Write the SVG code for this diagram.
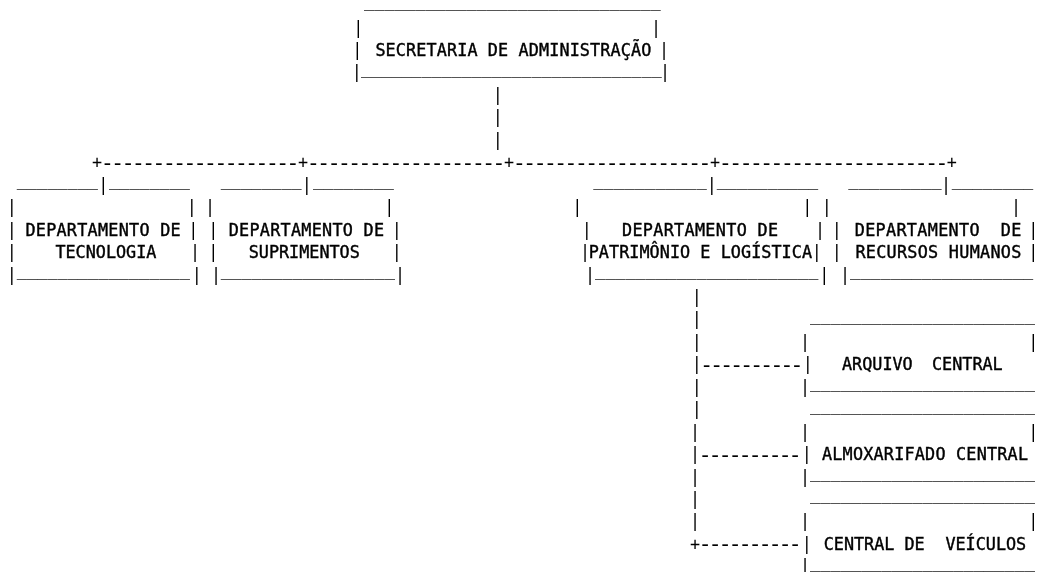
<svg xmlns="http://www.w3.org/2000/svg" width="1038" height="572" viewBox="0 0 1038 572">
<style>
text{font-family:"DejaVu Sans Mono","Liberation Mono",monospace;font-size:16.8px;fill:#000;white-space:pre}
.w{stroke:#000;stroke-width:0.4px}
.d{font-size:22px;letter-spacing:-2.94px}
.d2{font-size:22px;letter-spacing:-3.24px}
</style>
<defs>
<filter id="gray" x="0" y="0" width="1038" height="572" filterUnits="userSpaceOnUse"><feColorMatrix type="saturate" values="0"/></filter>
</defs>
<rect width="1038" height="572" fill="#fff"/>
<g filter="url(#gray)">
<g id="connectors">
<text x="492.65" y="100.9">|</text>
<text x="492.65" y="123.35">|</text>
<text x="492.65" y="145.8">|</text>
<text x="92.06" y="168.25">+</text>
<text x="298.06" y="168.25">+</text>
<text x="504.06" y="168.25">+</text>
<text x="710.06" y="168.25">+</text>
<text x="946.86" y="168.25">+</text>
<text class="d" x="100.8" y="169.75">-------------------</text>
<text class="d" x="306.8" y="169.75">-------------------</text>
<text class="d" x="512.8" y="169.75">-------------------</text>
<text class="d" x="718.8" y="169.75">----------------------</text>
<text x="98.25" y="190.7">|</text>
<text x="301.65" y="190.7">|</text>
<text x="706.65" y="190.7">|</text>
<text x="940.95" y="190.7">|</text>
<text x="691.65" y="302.95">|</text>
<text x="691.65" y="325.4">|</text>
<text x="691.65" y="347.85">|</text>
<text x="691.65" y="370.3">|</text>
<text x="691.65" y="392.75">|</text>
<text x="691.65" y="415.2">|</text>
<text x="689.95" y="437.65">|</text>
<text x="689.95" y="460.1">|</text>
<text x="689.95" y="482.55">|</text>
<text x="689.95" y="505">|</text>
<text x="689.95" y="527.45">|</text>
<text x="689.95" y="549.9">+</text>
<text class="d2" x="700.1" y="371.8">----------</text>
<text class="d2" x="698.5" y="461.6">----------</text>
<text class="d2" x="698.5" y="551.4">----------</text>
</g>
<g id="secretaria">
<text x="364" y="6.5" textLength="296.7" lengthAdjust="spacingAndGlyphs">_____________________________</text>
<text x="353.25" y="33.55">|</text>
<text x="650.95" y="33.55">|</text>
<text x="352.25" y="56">|</text>
<text class="w" x="375.4" y="56" textLength="275.9" lengthAdjust="spacing">SECRETARIA DE ADMINISTRAÇÃO</text>
<text x="658.95" y="56">|</text>
<text x="351.65" y="78.45">|</text>
<text x="361" y="73.85" textLength="300.7" lengthAdjust="spacingAndGlyphs">______________________________</text>
<text x="659.95" y="78.45">|</text>
</g>
<g id="dep-tecnologia">
<text x="16.7" y="186.1" textLength="81.3" lengthAdjust="spacingAndGlyphs">________</text>
<text x="109" y="186.1" textLength="81" lengthAdjust="spacingAndGlyphs">________</text>
<text x="6.65" y="213.15">|</text>
<text x="186.65" y="213.15">|</text>
<text x="6.65" y="235.6">|</text>
<text class="w" x="25.4" y="235.6" textLength="155.2" lengthAdjust="spacing">DEPARTAMENTO DE</text>
<text x="188.25" y="235.6">|</text>
<text x="6.65" y="258.05">|</text>
<text class="w" x="55.4" y="258.05">TECNOLOGIA</text>
<text x="189.95" y="258.05">|</text>
<text x="6.65" y="280.5">|</text>
<text x="16.7" y="275.9" textLength="173.3" lengthAdjust="spacingAndGlyphs">_________________</text>
<text x="191.65" y="280.5">|</text>
</g>
<g id="dep-suprimentos">
<text x="220.7" y="186.1" textLength="81" lengthAdjust="spacingAndGlyphs">________</text>
<text x="313" y="186.1" textLength="81" lengthAdjust="spacingAndGlyphs">________</text>
<text x="204.95" y="213.15">|</text>
<text x="384.25" y="213.15">|</text>
<text x="208.25" y="235.6">|</text>
<text class="w" x="228.7" y="235.6" textLength="155.3" lengthAdjust="spacing">DEPARTAMENTO DE</text>
<text x="391.65" y="235.6">|</text>
<text x="208.25" y="258.05">|</text>
<text class="w" x="248.7" y="258.05">SUPRIMENTOS</text>
<text x="391.65" y="258.05">|</text>
<text x="210.95" y="280.5">|</text>
<text x="220.7" y="275.9" textLength="174.3" lengthAdjust="spacingAndGlyphs">_________________</text>
<text x="394.95" y="280.5">|</text>
</g>
<g id="dep-patrimonio">
<text x="593.3" y="186.1" textLength="113.4" lengthAdjust="spacingAndGlyphs">___________</text>
<text x="716.7" y="186.1" textLength="101.6" lengthAdjust="spacingAndGlyphs">__________</text>
<text x="572.25" y="213.15">|</text>
<text x="802.25" y="213.15">|</text>
<text x="581.65" y="235.6">|</text>
<text class="w" x="622" y="235.6" textLength="156" lengthAdjust="spacing">DEPARTAMENTO DE</text>
<text x="814.95" y="235.6">|</text>
<text x="579.95" y="258.05">|</text>
<text class="w" x="588.7" y="258.05" textLength="223.3" lengthAdjust="spacing">PATRIMÔNIO E LOGÍSTICA</text>
<text x="811.65" y="258.05">|</text>
<text x="584.95" y="280.5">|</text>
<text x="595" y="275.9" textLength="223.3" lengthAdjust="spacingAndGlyphs">______________________</text>
<text x="819.25" y="280.5">|</text>
</g>
<g id="dep-recursos-humanos">
<text x="848.3" y="186.1" textLength="93.4" lengthAdjust="spacingAndGlyphs">_________</text>
<text x="951.7" y="186.1" textLength="81.6" lengthAdjust="spacingAndGlyphs">________</text>
<text x="821.65" y="213.15">|</text>
<text x="1010.95" y="213.15">|</text>
<text x="831.65" y="235.6">|</text>
<text class="w" x="854.7" y="235.6" textLength="166.6" lengthAdjust="spacing" xml:space="preserve">DEPARTAMENTO  DE</text>
<text x="1028.25" y="235.6">|</text>
<text x="831.65" y="258.05">|</text>
<text class="w" x="855.4" y="258.05" textLength="165.9" lengthAdjust="spacing">RECURSOS HUMANOS</text>
<text x="1028.25" y="258.05">|</text>
<text x="839.95" y="280.5">|</text>
<text x="850" y="275.9" textLength="183.3" lengthAdjust="spacingAndGlyphs">__________________</text>
</g>
<g id="arquivo-central">
<text x="810" y="320.8" textLength="225" lengthAdjust="spacingAndGlyphs">______________________</text>
<text x="799.95" y="347.85">|</text>
<text x="1028.25" y="347.85">|</text>
<text x="802.65" y="370.3">|</text>
<text class="w" x="842" y="370.3">ARQUIVO</text>
<text class="w" x="932" y="370.3">CENTRAL</text>
<text x="799.95" y="392.75">|</text>
<text x="810" y="388.15" textLength="225" lengthAdjust="spacingAndGlyphs">______________________</text>
</g>
<g id="almoxarifado-central">
<text x="810" y="410.6" textLength="225" lengthAdjust="spacingAndGlyphs">______________________</text>
<text x="799.95" y="437.65">|</text>
<text x="1028.25" y="437.65">|</text>
<text x="801.65" y="460.1">|</text>
<text class="w" x="822" y="460.1" textLength="206" lengthAdjust="spacing">ALMOXARIFADO CENTRAL</text>
<text x="799.95" y="482.55">|</text>
<text x="810" y="477.95" textLength="225" lengthAdjust="spacingAndGlyphs">______________________</text>
</g>
<g id="central-de-veiculos">
<text x="810" y="500.4" textLength="225" lengthAdjust="spacingAndGlyphs">______________________</text>
<text x="799.95" y="527.45">|</text>
<text x="1028.25" y="527.45">|</text>
<text x="801.65" y="549.9">|</text>
<text class="w" x="823.7" y="549.9">CENTRAL DE</text>
<text class="w" x="945.4" y="549.9">VEÍCULOS</text>
<text x="799.95" y="572.35">|</text>
<text x="810" y="567.75" textLength="225" lengthAdjust="spacingAndGlyphs">______________________</text>
</g>
</g>
</svg>
